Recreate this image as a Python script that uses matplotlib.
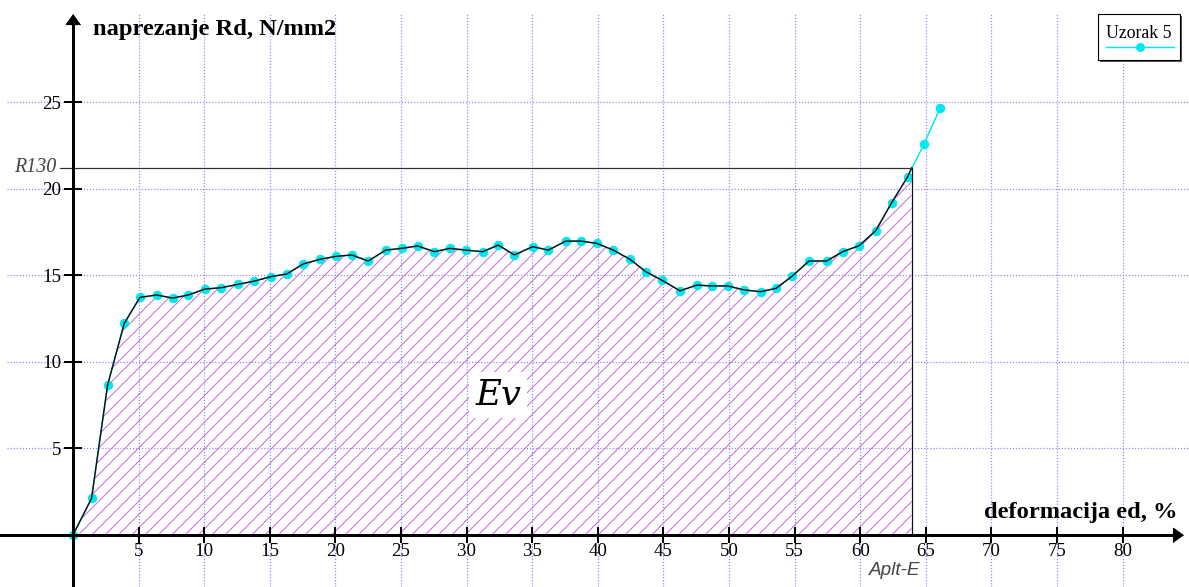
import numpy as np
import matplotlib.pyplot as plt
from matplotlib.patches import Rectangle
from matplotlib.lines import Line2D

# deformacija ed, % / naprezanje Rd, N/mm2 (Uzorak 5)
ed = [0, 1.42, 2.64, 3.91, 5.10, 6.38, 7.60, 8.79, 10.06, 11.30, 12.55, 13.82,
      15.09, 16.29, 17.55, 18.83, 20.05, 21.24, 22.51, 23.83, 25.05, 26.27,
      27.54, 28.73, 29.95, 31.23, 32.42, 33.64, 35.04, 36.23, 37.55, 38.72,
      39.92, 41.18, 42.45, 43.67, 44.87, 46.27, 47.54, 48.68, 49.90, 51.17,
      52.41, 53.58, 54.82, 56.10, 57.44, 58.66, 59.91, 61.18, 62.40, 63.62,
      64.86, 66.08]
rd = [0, 2.12, 8.66, 12.22, 13.72, 13.86, 13.68, 13.86, 14.20, 14.28, 14.47,
      14.66, 14.92, 15.07, 15.65, 15.92, 16.09, 16.17, 15.82, 16.45, 16.55,
      16.69, 16.36, 16.55, 16.45, 16.36, 16.74, 16.17, 16.65, 16.45, 16.97,
      16.97, 16.84, 16.45, 15.92, 15.20, 14.72, 14.10, 14.43, 14.38, 14.38,
      14.15, 14.05, 14.24, 14.95, 15.82, 15.82, 16.36, 16.70, 17.57, 19.19,
      20.69, 22.57, 24.63]

a_plt = 63.92     # Aplt-E
r130 = 21.2       # R130

x_ticks = [5, 10, 15, 20, 25, 30, 35, 40, 45, 50, 55, 60, 65, 70, 75, 80]
y_ticks = [5, 10, 15, 20, 25]

ed = np.array(ed)
rd = np.array(rd)

# ---------------------------------------------------
# figure (dpi 80 so that the '//' hatch spacing matches)
# ---------------------------------------------------
DPI = 80
fig = plt.figure(figsize=(1189 / DPI, 587 / DPI), dpi=DPI)
ax = fig.add_axes([0, 0, 1, 1])
ax.set_xlim(-5.56, 85.06)
ax.set_ylim(-3.0, 30.89)

serif = 'Liberation Serif'
grid_col = '#8a8aff'
cyan = '#00e8ee'
hatch_col = '#c96ad8'
plt.rcParams['hatch.linewidth'] = 0.9

# dotted grid
ax.hlines(y_ticks, -5, 85, colors=grid_col, linestyles=(0, (1, 1.5)), lw=1.1, zorder=0)
ax.vlines(x_ticks, -3.0, 30.1, colors=grid_col, linestyles=(0, (1, 1.5)), lw=1.1, zorder=0)

# area Ev under the curve up to Aplt-E
mask = ed < a_plt
xb = np.append(ed[mask], a_plt)
yb = np.append(rd[mask], r130)
ax.fill_between(xb, yb, 0, facecolor='none', edgecolor=hatch_col,
                hatch='//', linewidth=0, zorder=1)

# measured curve
ax.plot(ed, rd, color=cyan, lw=1.3, marker='o', ms=7.5, mec=cyan, mfc=cyan, zorder=3)
ax.plot(xb, yb, color='#111111', lw=1.3, zorder=4)

# R130 / Aplt-E lines
ax.plot([-1.0, a_plt], [r130, r130], color='#333333', lw=1.1, zorder=4)
ax.plot([a_plt, a_plt], [0, r130], color='#111111', lw=1.1, zorder=4)

# axes through the origin with arrows
for s in ['top', 'right']:
    ax.spines[s].set_visible(False)
ax.spines['left'].set_position(('data', 0))
ax.spines['bottom'].set_position(('data', 0))
ax.spines['left'].set_bounds(-3.0, 29.8)
ax.spines['bottom'].set_bounds(-5.56, 84.2)
ax.spines['left'].set_linewidth(2.7)
ax.spines['bottom'].set_linewidth(2.7)
ax.spines['left'].set_zorder(6)
ax.spines['bottom'].set_zorder(6)

ax.plot(0, 29.8, marker=[(0, 0.7), (-1, -0.7), (1, -0.7)], ms=13,
        color='k', clip_on=False, zorder=7)
ax.plot(84.2, 0, marker=[(0.7, 0), (-0.7, 1), (-0.7, -1)], ms=13,
        color='k', clip_on=False, zorder=7)

ax.set_xticks(x_ticks)
ax.set_yticks(y_ticks)
ax.set_xticklabels([str(t) for t in x_ticks], fontfamily=serif, fontsize=17)
ax.set_yticklabels([str(t) for t in y_ticks], fontfamily=serif, fontsize=17)
ax.tick_params(axis='y', direction='inout', length=17, width=1.8, pad=2)
ax.tick_params(axis='x', direction='inout', length=15, width=1.8, pad=0)

# axis titles
ax.text(1.52, 28.87, 'naprezanje Rd, N/mm2', fontfamily=serif, fontweight='bold',
        fontsize=22, ha='left', va='baseline')
ax.text(84.2, 0.98, 'deformacija ed, %', fontfamily=serif, fontweight='bold',
        fontsize=22, ha='right', va='baseline')

# annotations
ax.text(-1.25, r130, 'R130', fontfamily=serif, style='italic', fontsize=18,
        color='#444444', ha='right', va='center')
ax.text(62.6, -2.3, 'Aplt-E', fontfamily='Liberation Sans', style='italic',
        fontsize=17, color='#444444', ha='center', va='baseline')
ax.text(32.4, 8.08, 'Ev', fontfamily='DejaVu Serif', style='italic', fontsize=32,
        ha='center', va='center', zorder=5,
        bbox=dict(facecolor='white', edgecolor='none', pad=5))

# legend box (text above the line, as in the original)
W, H = 1189.0, 587.0
tf = fig.transFigure
fig.patches.append(Rectangle((1100 / W, 1 - 62 / H), 82 / W, 46 / H, transform=tf,
                             facecolor='#555555', edgecolor='none', zorder=8))
fig.patches.append(Rectangle((1098 / W, 1 - 60 / H), 82 / W, 46 / H, transform=tf,
                             facecolor='white', edgecolor='black', lw=1, zorder=9))
fig.text(1139 / W, 1 - 38 / H, 'Uzorak 5', fontfamily=serif, fontsize=16,
         ha='center', va='baseline', zorder=10)
fig.lines.append(Line2D([1106 / W, 1174 / W], [1 - 47 / H, 1 - 47 / H], transform=tf,
                        color=cyan, lw=1.3, zorder=10))
fig.lines.append(Line2D([1140 / W], [1 - 47 / H], transform=tf, marker='o', ms=7,
                        color=cyan, zorder=10))

fig.savefig('out.png', dpi=DPI)
